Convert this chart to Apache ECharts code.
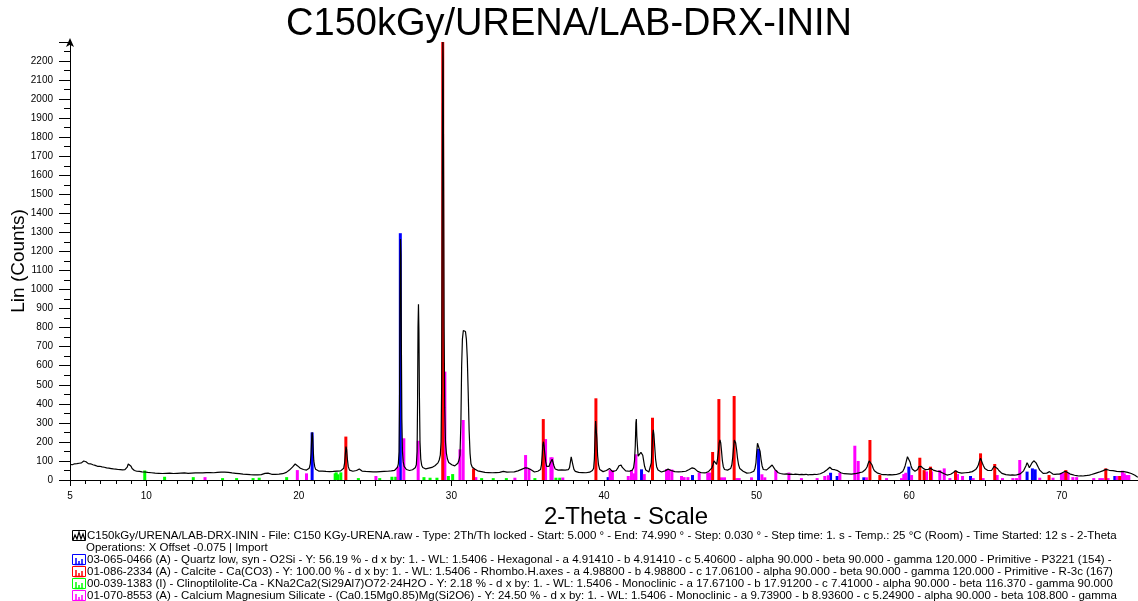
<!DOCTYPE html>
<html>
<head>
<meta charset="utf-8">
<script src="https://cdn.jsdelivr.net/npm/echarts@6/dist/echarts.min.js"></script>
<style>
html,body{margin:0;padding:0;background:#fff;}
#chart{width:1138px;height:601px;}
</style>
</head>
<body>
<div id="chart"></div>
<script>
// ---------- DATA ----------
const chartTitle = "C150kGy/URENA/LAB-DRX-ININ";
const xName = "2-Theta - Scale";
const yName = "Lin (Counts)";
const xTickLabels = [5, 10, 20, 30, 40, 50, 60, 70];

// measured pattern [2-theta, counts]
const scan = [
[5.00,82],[5.08,86],[5.15,80],[5.22,88],[5.30,85],[5.38,90],[5.45,86],[5.52,92],[5.60,88],[5.68,94],[5.75,90],[5.82,97],[5.90,100],[5.97,93],[6.05,96],[6.12,88],[6.20,86],[6.28,82],[6.35,85],[6.42,79],[6.50,80],[6.58,75],[6.65,77],[6.72,73],[6.80,72],[6.88,70],[6.95,72],[7.02,68],[7.10,69],[7.18,66],[7.25,67],[7.32,63],[7.40,64],[7.48,61],[7.55,62],[7.62,59],[7.70,60],[7.78,57],[7.85,58],[7.92,55],[8.00,57],[8.08,54],[8.15,55],[8.22,52],[8.30,54],[8.38,51],[8.45,53],[8.52,50],[8.60,54],[8.68,58],[8.75,68],[8.82,84],[8.88,93],[8.94,86],[9.00,72],[9.07,60],[9.14,54],[9.22,50],[9.30,48],[9.38,46],[9.46,44],[9.55,45],[9.64,42],[9.72,43],[9.80,40],[9.90,42],[10.00,38],
[10.10,40],[10.22,36],[10.34,38],[10.46,34],[10.58,36],[10.70,33],[10.82,35],[10.94,32],[11.06,34],[11.18,31],[11.30,35],[11.42,33],[11.54,36],[11.66,32],[11.78,34],[11.90,31],[12.02,35],[12.14,33],[12.26,36],[12.38,34],[12.50,37],[12.62,33],[12.74,35],[12.86,32],[12.98,36],[13.10,34],[13.22,37],[13.34,35],[13.46,38],[13.58,35],[13.70,37],[13.82,36],[13.94,39],[14.06,37],[14.18,39],[14.30,36],[14.42,38],[14.54,37],[14.66,40],[14.78,38],[14.90,41],[15.02,39],[15.14,41],[15.26,38],[15.38,40],[15.50,39],[15.62,37],[15.74,38],[15.86,35],[15.98,36],[16.10,33],[16.22,34],[16.34,31],[16.46,32],[16.58,30],[16.70,31],[16.82,28],[16.94,29],[17.06,27],[17.18,28],[17.30,27],[17.42,29],[17.54,28],[17.66,31],[17.78,35],[17.88,40],[17.98,36],[18.10,32],[18.22,30],[18.34,32],[18.46,30],[18.58,33],[18.70,31],[18.82,34],[18.94,33],[19.06,36],[19.18,40],
[19.28,45],[19.38,52],[19.48,60],[19.58,68],[19.68,78],[19.76,84],[19.84,80],[19.92,74],[20.00,68],[20.10,62],[20.20,57],[20.30,55],[20.40,53],[20.50,52],[20.60,55],[20.68,62],[20.75,85],[20.80,140],[20.84,215],[20.87,250],[20.90,230],[20.94,160],[20.98,100],[21.04,70],[21.10,56],[21.20,50],[21.30,47],[21.42,45],[21.54,47],[21.66,43],[21.78,45],[21.90,42],[22.02,44],[22.14,41],[22.26,45],[22.38,43],[22.50,47],[22.62,45],[22.74,48],[22.86,52],[22.94,62],[23.00,90],[23.05,140],[23.09,175],[23.13,160],[23.18,110],[23.24,70],[23.32,52],[23.42,48],[23.54,46],[23.66,48],[23.78,50],[23.88,55],[23.96,58],[24.04,53],[24.14,47],[24.26,44],[24.38,45],[24.50,42],[24.62,44],[24.74,42],[24.86,43],[24.98,45],[25.10,43],[25.22,45],[25.34,44],[25.46,42],[25.58,45],[25.70,44],[25.82,46],[25.94,45],[26.06,48],[26.18,47],[26.28,51],[26.38,56],[26.46,66],[26.52,85],[26.57,150],[26.60,420],[26.63,950],[26.66,1265],[26.69,1180],[26.72,700],[26.75,320],[26.79,150],[26.84,95],[26.90,72],[26.97,62],
[27.05,55],[27.15,52],[27.25,50],[27.35,52],[27.45,54],[27.55,58],[27.63,64],[27.70,80],[27.75,150],[27.78,400],[27.81,800],[27.84,923],[27.87,780],[27.90,450],[27.94,200],[27.99,110],[28.05,78],[28.12,66],[28.22,60],[28.32,58],[28.42,60],[28.52,62],[28.62,64],[28.72,66],[28.82,70],[28.92,75],[29.02,82],[29.12,90],[29.20,105],[29.27,130],[29.32,200],[29.36,500],[29.39,1200],[29.42,2000],[29.44,2300],[29.46,2200],[29.49,1500],[29.52,800],[29.56,380],[29.61,200],[29.67,140],[29.74,110],[29.82,92],[29.92,84],[30.02,80],[30.12,76],[30.22,74],[30.32,78],[30.42,88],[30.50,105],[30.56,130],[30.62,300],[30.67,600],[30.72,740],[30.78,785],[30.85,795],[30.92,780],[30.98,740],[31.04,640],[31.10,460],[31.16,260],[31.22,140],[31.28,85],[31.36,68],[31.44,64],[31.52,58],[31.62,52],[31.72,48],
[31.84,46],[31.96,44],[32.08,42],[32.20,40],[32.32,41],[32.44,39],[32.56,40],[32.68,38],[32.80,40],[32.92,39],[33.04,41],[33.16,40],[33.28,43],[33.40,45],[33.52,43],[33.64,41],[33.76,40],[33.88,42],[34.00,41],[34.12,43],[34.24,45],[34.36,48],[34.48,52],[34.60,56],[34.72,60],[34.84,64],[34.93,67],[35.02,62],[35.12,56],[35.22,54],[35.32,48],[35.44,42],[35.56,44],[35.66,46],[35.76,50],[35.84,55],[35.90,80],[35.95,130],[35.99,185],[36.03,201],[36.07,180],[36.12,140],[36.18,95],[36.24,72],[36.32,66],[36.40,72],[36.47,88],[36.53,98],[36.60,109],[36.66,100],[36.72,75],[36.80,58],[36.90,54],[37.00,52],[37.12,54],[37.22,53],[37.34,56],[37.46,52],[37.56,50],[37.66,54],[37.74,65],[37.80,95],[37.85,122],[37.90,118],[37.96,80],[38.03,56],[38.12,45],[38.22,42],[38.34,40],[38.46,38],[38.58,39],[38.70,37],[38.82,38],[38.94,40],[39.06,41],[39.16,44],[39.24,50],[39.32,62],[39.37,110],[39.41,220],[39.45,310],[39.49,300],[39.53,220],[39.58,130],[39.64,80],[39.72,55],[39.82,46],[39.94,44],[40.06,46],[40.16,50],[40.26,56],[40.36,61],[40.46,55],[40.56,44],[40.68,42],[40.80,50],[40.90,62],[40.98,75],[41.05,82],[41.12,78],[41.20,66],[41.30,58],[41.42,48],[41.54,44],[41.66,46],[41.76,48],[41.86,52],[41.94,65],[42.00,100],[42.05,180],[42.09,300],[42.12,320],[42.15,230],[42.19,180],[42.24,125],[42.30,120],[42.36,132],[42.42,145],[42.48,149],[42.54,130],[42.60,100],[42.66,72],[42.74,52],[42.84,44],[42.94,42],[43.04,52],[43.10,90],[43.15,170],[43.19,235],[43.23,263],[43.27,240],[43.32,180],[43.38,110],[43.45,70],[43.54,52],[43.64,46],[43.76,42],[43.88,44],[44.00,48],[44.10,52],[44.20,57],[44.30,54],[44.40,50],[44.52,46],[44.64,44],[44.76,42],[44.88,43],[45.00,41],[45.12,44],[45.24,42],[45.36,46],[45.48,50],[45.58,55],[45.68,60],[45.78,64],[45.86,65],[45.94,60],[46.04,50],[46.14,45],[46.26,42],[46.38,38],[46.50,35],[46.62,37],[46.74,40],[46.86,45],[46.96,50],[47.06,62],[47.14,80],[47.21,100],[47.27,105],[47.33,92],[47.38,82],[47.44,110],[47.50,150],[47.55,195],[47.60,210],[47.65,195],[47.70,155],[47.76,100],[47.82,70],[47.90,55],[48.00,50],[48.10,52],[48.20,55],[48.30,60],[48.38,80],[48.44,120],[48.49,170],[48.54,210],[48.58,215],[48.63,195],[48.69,160],[48.75,115],[48.82,80],[48.90,60],[49.00,52],[49.12,46],[49.24,40],[49.36,36],[49.48,37],[49.60,38],[49.72,40],[49.82,46],[49.90,62],[49.96,90],[50.01,150],[50.06,193],[50.11,190],[50.17,184],[50.23,150],[50.29,110],[50.36,75],[50.44,55],[50.54,50],[50.66,53],[50.76,60],[50.86,67],[50.94,74],[51.02,79],[51.10,70],[51.20,56],[51.30,46],[51.42,38],[51.56,34],[51.70,32],[51.84,31],[51.98,32],
[52.12,30],[52.26,31],[52.40,29],[52.54,31],[52.68,30],[52.82,28],[52.96,30],[53.10,28],[53.24,30],[53.38,27],[53.52,29],[53.66,28],[53.80,30],[53.94,29],[54.06,31],[54.18,33],[54.30,36],[54.42,42],[54.54,48],[54.64,55],[54.72,62],[54.80,67],[54.88,62],[54.96,55],[55.04,52],[55.12,54],[55.22,50],[55.32,49],[55.42,44],[55.52,38],[55.62,35],[55.74,33],[55.86,31],[55.98,32],[56.10,30],[56.22,31],[56.34,30],[56.46,33],[56.58,35],[56.70,37],[56.82,38],[56.94,42],[57.04,48],[57.14,55],[57.24,68],[57.32,88],[57.38,100],[57.43,109],[57.49,98],[57.56,80],[57.64,62],[57.72,49],[57.82,42],[57.94,36],[58.06,33],[58.18,30],[58.32,28],[58.46,29],[58.60,27],[58.74,28],[58.88,27],[59.02,28],[59.16,29],[59.28,31],[59.40,35],[59.50,38],[59.58,45],[59.66,58],[59.74,75],[59.82,100],[59.89,122],[59.94,131],[60.00,118],[60.06,95],[60.12,75],[60.20,58],[60.28,49],[60.38,46],[60.48,44],[60.56,55],[60.63,70],[60.70,79],[60.77,72],[60.85,64],[60.92,61],[61.00,56],[61.08,54],[61.16,52],[61.24,56],[61.32,60],[61.40,61],[61.48,58],[61.58,52],[61.68,49],[61.80,47],[61.92,45],[62.02,44],[62.14,40],[62.26,34],[62.38,29],[62.48,26],[62.60,28],[62.72,30],[62.82,33],[62.90,40],[62.97,46],[63.04,49],[63.12,45],[63.22,40],[63.32,38],[63.44,36],[63.56,37],[63.68,38],[63.80,39],[63.92,40],[64.04,42],[64.14,44],[64.26,48],[64.36,55],[64.46,66],[64.54,80],[64.61,100],[64.68,114],[64.74,102],[64.80,88],[64.87,75],[64.96,60],[65.06,52],[65.16,50],[65.28,49],[65.40,50],[65.50,60],[65.57,72],[65.62,75],[65.70,66],[65.78,61],[65.88,50],[65.98,40],[66.08,35],[66.20,31],[66.34,28],[66.48,27],[66.62,26],[66.76,27],[66.90,26],[67.04,27],[67.16,28],[67.28,32],[67.40,40],[67.50,48],[67.58,55],[67.66,75],[67.73,91],[67.80,80],[67.88,64],[67.96,70],[68.04,88],[68.10,96],[68.17,101],[68.24,96],[68.32,90],[68.40,80],[68.48,64],[68.56,52],[68.66,42],[68.78,35],[68.90,31],[69.02,36],[69.12,42],[69.20,44],[69.30,36],[69.42,31],[69.56,30],[69.70,31],[69.84,31],[69.98,35],[70.10,40],[70.20,45],[70.27,47],[70.36,41],[70.46,35],[70.56,31],[70.70,28],[70.84,25],[70.98,23],[71.12,21],[71.26,22],[71.40,21],[71.54,23],[71.68,24],[71.82,26],[71.96,29],[72.08,31],[72.20,35],[72.32,38],[72.44,41],[72.56,44],[72.68,48],[72.80,52],[72.90,56],[73.00,54],[73.12,51],[73.24,48],[73.36,49],[73.48,46],[73.60,45],[73.72,44],[73.84,44],[73.96,42],[74.08,44],[74.20,44],[74.32,40],[74.44,38],[74.56,34],[74.68,31],[74.80,25],[74.90,17],[74.99,14]
];

// reference pattern sticks [2-theta, counts]
const quartz = [[20.87,250],[26.65,1296],[40.27,15],[42.46,56],[45.80,26],[50.13,163],[54.85,38],[55.28,21],[57.03,14],[59.98,70],[64.02,21],[67.73,44],[68.08,61],[68.26,56],[73.48,21]];
const calcite = [[23.08,228],[29.43,2300],[31.45,61],[36.02,320],[39.47,429],[43.18,327],[47.12,147],[47.53,425],[48.53,441],[57.43,210],[58.08,26],[60.70,117],[60.98,52],[61.40,70],[63.04,49],[64.68,140],[65.61,84],[69.17,26],[70.27,52],[72.89,61],[73.80,21]];
const clinoptilolite = [[9.90,50],[11.20,17],[13.08,15],[15.00,10],[15.92,10],[17.00,10],[17.40,12],[19.20,15],[22.38,35],[22.45,40],[22.55,30],[22.75,40],[23.90,10],[25.30,10],[26.10,17],[26.35,17],[28.20,15],[28.60,12],[29.05,12],[29.80,21],[30.08,31],[31.98,10],[32.74,10],[33.60,10],[35.47,10],[36.85,12],[37.10,12]];
const cmSilicate = [[13.85,15],[19.90,52],[20.50,35],[25.05,21],[26.50,70],[26.88,219],[27.82,206],[29.57,569],[30.56,161],[30.77,315],[31.60,15],[34.16,12],[34.86,131],[35.08,61],[36.17,215],[36.52,119],[36.60,119],[37.30,13],[40.40,52],[40.55,52],[41.59,21],[41.80,52],[41.96,35],[42.09,135],[42.64,31],[44.10,57],[44.25,55],[44.45,55],[45.08,21],[45.25,15],[45.50,15],[46.24,39],[46.80,39],[46.94,39],[47.70,14],[47.90,14],[48.70,10],[48.86,10],[49.67,14],[50.35,30],[50.54,14],[51.26,52],[52.12,39],[52.94,10],[53.97,10],[54.47,21],[54.70,25],[55.46,38],[56.44,180],[56.66,100],[57.20,14],[58.52,10],[59.50,10],[59.65,31],[59.78,38],[60.16,26],[61.14,45],[61.47,45],[62.01,52],[62.30,61],[62.67,10],[63.17,31],[63.50,21],[64.20,10],[64.85,10],[65.77,26],[66.12,10],[66.80,10],[67.04,10],[67.25,105],[68.56,12],[69.43,12],[69.98,38],[70.14,38],[70.42,38],[70.73,15],[70.98,15],[72.10,10],[72.50,10],[72.67,10],[73.04,10],[73.63,21],[73.98,49],[74.10,35],[74.24,26],[74.40,26]];

const legendLines = [
 {color:'#000000', type:'scan', text:'C150kGy/URENA/LAB-DRX-ININ - File: C150 KGy-URENA.raw - Type: 2Th/Th locked - Start: 5.000 ° - End: 74.990 ° - Step: 0.030 ° - Step time: 1. s - Temp.: 25 °C (Room) - Time Started: 12 s - 2-Theta'},
 {color:null, type:'none', text:'Operations: X Offset -0.075 | Import'},
 {color:'#0000ff', type:'stick', text:'03-065-0466 (A) - Quartz low, syn - O2Si - Y: 56.19 % - d x by: 1. - WL: 1.5406 - Hexagonal - a 4.91410 - b 4.91410 - c 5.40600 - alpha 90.000 - beta 90.000 - gamma 120.000 - Primitive - P3221 (154) -'},
 {color:'#ff0000', type:'stick', text:'01-086-2334 (A) - Calcite - Ca(CO3) - Y: 100.00 % - d x by: 1. - WL: 1.5406 - Rhombo.H.axes - a 4.98800 - b 4.98800 - c 17.06100 - alpha 90.000 - beta 90.000 - gamma 120.000 - Primitive - R-3c (167)'},
 {color:'#00ff00', type:'stick', text:'00-039-1383 (I) - Clinoptilolite-Ca - KNa2Ca2(Si29Al7)O72·24H2O - Y: 2.18 % - d x by: 1. - WL: 1.5406 - Monoclinic - a 17.67100 - b 17.91200 - c 7.41000 - alpha 90.000 - beta 116.370 - gamma 90.000'},
 {color:'#ff00ff', type:'stick', text:'01-070-8553 (A) - Calcium Magnesium Silicate - (Ca0.15Mg0.85)Mg(Si2O6) - Y: 24.50 % - d x by: 1. - WL: 1.5406 - Monoclinic - a 9.73900 - b 8.93600 - c 5.24900 - alpha 90.000 - beta 108.800 - gamma'}
];

// ---------- CHART ----------
const FONT = 'Liberation Sans, Arial, sans-serif';
const chart = echarts.init(document.getElementById('chart'), null, {renderer:'canvas'});

function stickSeries(name, data, color){
  return {
    type:'custom', name, data, clip:true, z:2,
    itemStyle:{color},
    renderItem:function(params, api){
      const top = api.coord([api.value(0), api.value(1)]);
      const bot = api.coord([api.value(0), 0]);
      return {type:'rect', shape:{x:top[0]-1.5, y:top[1], width:3, height:bot[1]-top[1]}, style:{fill:color}};
    }
  };
}

const graphics = [];
const legendTop = 531, lineH = 12;
legendLines.forEach((l, i) => {
  const y = legendTop + i*lineH;
  if (l.type === 'scan') {
    graphics.push({type:'rect', shape:{x:72.5, y:y-0.5, width:13, height:10}, style:{fill:'none', stroke:'#000', lineWidth:1}});
    graphics.push({type:'polyline', shape:{points:[[73,y+9],[75,y+4],[77,y+8],[79,y+1],[81,y+8],[83,y+3],[85,y+9]]}, style:{fill:'none', stroke:'#000', lineWidth:1.2}});
  } else if (l.type === 'stick') {
    graphics.push({type:'rect', shape:{x:72.5, y:y-0.5, width:13, height:10}, style:{fill:'none', stroke:l.color, lineWidth:1}});
    graphics.push({type:'polyline', shape:{points:[[74.5,y+9.5],[83.5,y+9.5]]}, style:{stroke:l.color, lineWidth:1.5}});
    graphics.push({type:'line', shape:{x1:76, y1:y+9, x2:76, y2:y+3}, style:{stroke:l.color, lineWidth:1.5}});
    graphics.push({type:'line', shape:{x1:79, y1:y+9, x2:79, y2:y+6}, style:{stroke:l.color, lineWidth:1.5}});
    graphics.push({type:'line', shape:{x1:82, y1:y+9, x2:82, y2:y+4}, style:{stroke:l.color, lineWidth:1.5}});
  }
  graphics.push({type:'text', left: l.type==='none'?86:87, top:y-1.5, style:{text:l.text, font:'11.5px '+FONT, fill:'#000'}});
});
graphics.push({type:'text', x:626, y:505, style:{text:xName, font:'24px '+FONT, fill:'#000', align:'center'}});

chart.setOption({
  animation:false,
  backgroundColor:'#fff',
  title:{text:chartTitle, left:'center', top:1, textStyle:{fontFamily:FONT, fontWeight:'normal', fontSize:38, color:'#000'}},
  grid:{left:70, right:0, top:42, bottom:121, containLabel:false, outerBoundsMode:'none'},
  xAxis:{
    type:'value', min:5, max:75, interval:5,
    axisLine:{show:true, lineStyle:{color:'#000', width:1}},
    axisTick:{show:true, length:6, lineStyle:{color:'#000'}},
    minorTick:{show:true, splitNumber:5, length:4, lineStyle:{color:'#000'}},
    splitLine:{show:false},
    axisLabel:{margin:11, fontFamily:FONT, fontSize:10, color:'#000',
      formatter:v => xTickLabels.indexOf(v) >= 0 ? String(v) : ''}
  },
  yAxis:{
    type:'value', min:0, max:2300, interval:100,
    name:yName, nameLocation:'middle', nameRotate:90, nameGap:42, nameMoveOverlap:false,
    nameTextStyle:{fontFamily:FONT, fontSize:19, color:'#000'},
    axisLine:{show:true, symbol:['none','arrow'], symbolSize:[6,9], symbolOffset:[0,4], lineStyle:{color:'#000', width:1}},
    axisTick:{show:true, length:11, lineStyle:{color:'#000'}},
    minorTick:{show:true, splitNumber:2, length:6, lineStyle:{color:'#000'}},
    splitLine:{show:false},
    axisLabel:{margin:17, fontFamily:FONT, fontSize:10, color:'#000', formatter:v => v===2300 ? '' : String(v)}
  },
  graphic:graphics,
  series:[
    stickSeries('Quartz', quartz, '#0000ff'),
    stickSeries('Clinoptilolite', clinoptilolite, '#00ff00'),
    stickSeries('CaMg Silicate', cmSilicate, '#ff00ff'),
    stickSeries('Calcite', calcite, '#ff0000'),
    {type:'line', name:'scan', data:scan, symbol:'none', z:5, clip:true,
     lineStyle:{color:'#000', width:1.2}, itemStyle:{color:'#000'}}
  ]
});
</script>
</body>
</html>
